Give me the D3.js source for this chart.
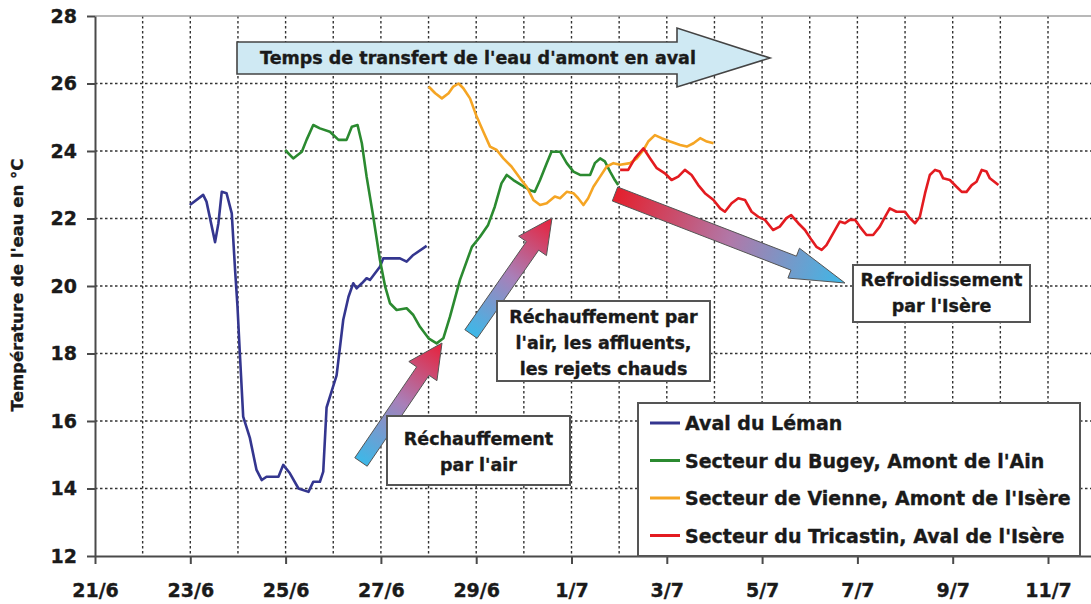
<!DOCTYPE html>
<html>
<head>
<meta charset="utf-8">
<script src="https://cdn.jsdelivr.net/npm/d3@7"></script>
<style>
  body { margin: 0; background: #fff; }
  text { font-family: "DejaVu Sans", sans-serif; font-weight: bold; fill: #1a1a1a; stroke: #1a1a1a; stroke-width: 0.35px; }
</style>
</head>
<body>
<script>
// axes
var xLabels = ["21/6", "23/6", "25/6", "27/6", "29/6", "1/7", "3/7", "5/7", "7/7", "9/7", "11/7"]
var yTicks = [12, 14, 16, 18, 20, 22, 24, 26, 28]

// series : [jours depuis le 21/6, temperature]
var seriesNames = ["Aval du Léman", "Secteur du Bugey, Amont de l'Ain",
  "Secteur de Vienne, Amont de l'Isère", "Secteur du Tricastin, Aval de l'Isère"]
var seriesColors = ["#34368f", "#2b8a30", "#f5a524", "#e31b20"]

var leman = [[1.99,22.4],[2.27,22.7],[2.34,22.5],[2.52,21.3],[2.59,21.86],[2.66,22.79],[2.76,22.75],
  [2.87,22.15],[2.94,20.47],[2.99,19.4],[3.04,18.0],[3.11,16.13],[3.25,15.5],[3.39,14.55],[3.5,14.25],
  [3.6,14.35],[3.85,14.35],[3.95,14.7],[4.09,14.45],[4.27,14.0],[4.48,13.9],[4.58,14.2],[4.72,14.2],
  [4.79,14.5],[4.86,16.4],[4.97,16.9],[5.07,17.35],[5.21,19.0],[5.32,19.68],[5.42,20.08],[5.49,19.93],
  [5.6,20.08],[5.7,20.23],[5.77,20.18],[5.98,20.57],[6.05,20.82],[6.4,20.82],[6.54,20.72],[6.68,20.92],[6.96,21.19]]

var bugey = [[3.99,24.03],[4.16,23.78],[4.34,23.98],[4.44,24.33],[4.58,24.77],[4.72,24.67],[4.93,24.57],
  [5.11,24.33],[5.28,24.33],[5.39,24.72],[5.51,24.77],[5.6,24.23],[5.7,23.24],[5.84,22.05],[5.98,20.77],
  [6.09,19.98],[6.19,19.49],[6.33,19.29],[6.54,19.34],[6.68,19.14],[6.82,18.79],[7.0,18.45],[7.17,18.3],
  [7.31,18.45],[7.45,19.09],[7.66,20.18],[7.91,21.16],[8.08,21.46],[8.25,21.81],[8.39,22.35],[8.53,23.04],
  [8.64,23.29],[8.78,23.14],[8.95,22.99],[9.13,22.84],[9.23,22.79],[9.34,23.14],[9.48,23.64],[9.58,23.98],
  [9.76,23.98],[9.9,23.64],[10.04,23.39],[10.18,23.29],[10.39,23.29],[10.49,23.64],[10.6,23.78],
  [10.7,23.69],[10.81,23.39],[10.91,23.14],[10.98,22.99]]

var vienne = [[7.0,25.91],[7.14,25.71],[7.28,25.56],[7.42,25.71],[7.52,25.91],[7.63,26.0],[7.73,25.86],
  [7.87,25.56],[8.01,25.02],[8.15,24.57],[8.29,24.13],[8.43,24.03],[8.57,23.78],[8.74,23.54],[8.92,23.19],
  [9.06,22.94],[9.2,22.55],[9.34,22.4],[9.48,22.45],[9.65,22.65],[9.76,22.6],[9.9,22.79],[10.04,22.75],
  [10.14,22.6],[10.25,22.4],[10.35,22.6],[10.46,22.94],[10.6,23.24],[10.74,23.54],[10.88,23.64],
  [11.02,23.59],[11.23,23.64],[11.37,23.78],[11.51,24.03],[11.61,24.28],[11.75,24.47],[11.89,24.38],
  [12.07,24.28],[12.28,24.18],[12.42,24.13],[12.56,24.23],[12.7,24.38],[12.84,24.28],[12.98,24.23]]

var tricastin = [[11.02,23.44],[11.19,23.44],[11.33,23.78],[11.51,24.08],[11.65,23.78],[11.79,23.49],
  [11.96,23.34],[12.1,23.14],[12.24,23.24],[12.38,23.44],[12.52,23.29],[12.66,22.99],[12.8,22.75],
  [12.98,22.55],[13.12,22.3],[13.22,22.2],[13.36,22.45],[13.5,22.6],[13.64,22.55],[13.78,22.2],
  [13.92,22.05],[14.06,21.96],[14.23,21.66],[14.37,21.76],[14.51,22.01],[14.61,22.1],[14.76,21.86],
  [14.9,21.66],[15.04,21.36],[15.14,21.16],[15.25,21.07],[15.35,21.21],[15.49,21.56],[15.63,21.91],
  [15.74,21.86],[15.84,21.96],[15.95,21.96],[16.05,21.76],[16.19,21.51],[16.33,21.51],[16.47,21.76],
  [16.58,22.05],[16.68,22.3],[16.82,22.2],[17.0,22.2],[17.1,22.01],[17.21,21.86],[17.31,22.05],
  [17.42,22.75],[17.52,23.29],[17.63,23.44],[17.73,23.39],[17.8,23.19],[17.94,23.14],[18.08,22.94],
  [18.19,22.79],[18.29,22.79],[18.4,22.99],[18.5,23.09],[18.61,23.44],[18.71,23.39],[18.78,23.19],[18.96,22.99]]

var allSeries = [leman, bugey, vienne, tricastin]

var width = 1091, height = 604

var svg = d3.select("body").append("svg")
  .attr("width", width)
  .attr("height", height)

var x = d3.scaleLinear().domain([0, 21]).range([95, 95 + 21 * 47.65])
var y = d3.scaleLinear().domain([12, 28]).range([556, 16])

// quadrillage pointille
var grille = svg.append("g")
grille.selectAll(".gv")
  .data(d3.range(1, 22))
  .enter().append("line")
  .attr("x1", d => x(d)).attr("x2", d => x(d))
  .attr("y1", y(28)).attr("y2", y(12))
  .attr("stroke", "#333").attr("stroke-width", 1.4).attr("stroke-dasharray", "2.5,2.5")
grille.selectAll(".gh")
  .data(yTicks.filter(d => d > 12 && d < 28))
  .enter().append("line")
  .attr("x1", x(0)).attr("x2", width)
  .attr("y1", d => y(d)).attr("y2", d => y(d))
  .attr("stroke", "#333").attr("stroke-width", 1.4).attr("stroke-dasharray", "2.5,2.5")
// bord du haut
svg.append("line")
  .attr("x1", x(0)).attr("x2", width).attr("y1", y(28)).attr("y2", y(28))
  .attr("stroke", "#a0a0a0").attr("stroke-width", 1.5)

// axes
var ejeY = d3.axisLeft(y).tickValues(yTicks).tickSize(8).tickSizeOuter(0).tickPadding(10)
var gY = svg.append("g").attr("transform", "translate(" + x(0) + ",0)").call(ejeY)
var ejeX = d3.axisBottom(x).tickValues(d3.range(0, 21, 2))
  .tickFormat(d => xLabels[d / 2]).tickSize(8).tickSizeOuter(0).tickPadding(20)
var gX = svg.append("g").attr("transform", "translate(0," + y(12) + ")").call(ejeX)

;[gX, gY].forEach(function (g) {
  g.select(".domain").attr("stroke", "#4a4a4a").attr("stroke-width", 2)
  g.selectAll(".tick line").attr("stroke", "#4a4a4a").attr("stroke-width", 2)
  g.selectAll(".tick text").attr("fill", "#1a1a1a")
    .style("font-family", '"DejaVu Sans", sans-serif').style("font-weight", "bold").style("font-size", "19px")
})

svg.append("text")
  .attr("transform", "translate(17,285) rotate(-90)")
  .attr("text-anchor", "middle").attr("dominant-baseline", "central")
  .style("font-size", "16.5px")
  .text("Température de l'eau en °C")

// courbes
var linea = d3.line().x(d => x(d[0])).y(d => y(d[1]))
svg.selectAll(".serie")
  .data(allSeries)
  .enter().append("path")
  .attr("d", linea)
  .attr("fill", "none")
  .attr("stroke", (d, i) => seriesColors[i])
  .attr("stroke-width", 2.6)
  .attr("stroke-linejoin", "round")

// fleches
function flecha(x1, y1, x2, y2, sw, hw, hl) {
  var dx = x2 - x1, dy = y2 - y1, L = Math.hypot(dx, dy)
  var ux = dx / L, uy = dy / L, px = -uy, py = ux
  var bx = x2 - ux * hl, by = y2 - uy * hl
  var p = [[x1 + px * sw / 2, y1 + py * sw / 2], [bx + px * sw / 2, by + py * sw / 2],
    [bx + px * hw / 2, by + py * hw / 2], [x2, y2], [bx - px * hw / 2, by - py * hw / 2],
    [bx - px * sw / 2, by - py * sw / 2], [x1 - px * sw / 2, y1 - py * sw / 2]]
  return "M" + p.map(q => q.join(",")).join("L") + "Z"
}

var defs = svg.append("defs")
function degradado(id, x1, y1, x2, y2, colores) {
  var g = defs.append("linearGradient").attr("id", id).attr("gradientUnits", "userSpaceOnUse")
    .attr("x1", x1).attr("y1", y1).attr("x2", x2).attr("y2", y2)
  colores.forEach((c, i) => g.append("stop").attr("offset", i / (colores.length - 1)).attr("stop-color", c))
}

var arrows = [
  {id: "ga", x1: 361, y1: 462, x2: 442, y2: 343, cols: ["#3db8e8", "#a97fb8", "#e8203a"]},
  {id: "gb", x1: 471, y1: 334, x2: 552, y2: 218, cols: ["#3db8e8", "#a97fb8", "#e8203a"]},
  {id: "gc", x1: 615, y1: 194, x2: 845, y2: 283, cols: ["#e41f2c", "#b178a8", "#3db8e8"]}
]
arrows.forEach(function (a) {
  degradado(a.id, a.x1, a.y1, a.x2, a.y2, a.cols)
  svg.append("path")
    .attr("d", flecha(a.x1, a.y1, a.x2, a.y2, 15, a.id == "gc" ? 32 : 34, a.id == "gc" ? 55 : 34))
    .attr("fill", "url(#" + a.id + ")")
    .attr("stroke", "#555").attr("stroke-width", 1)
})

// fleche du haut
var top_arrow = [[237, 42], [677, 42], [677, 28], [770, 58], [677, 87], [677, 74], [237, 74]]
svg.append("path")
  .attr("d", "M" + top_arrow.map(q => q.join(",")).join("L") + "Z")
  .attr("fill", "#cfe9f3").attr("stroke", "#444").attr("stroke-width", 1.6)
svg.append("text")
  .attr("x", 478).attr("y", 58).attr("text-anchor", "middle").attr("dominant-baseline", "central")
  .style("font-size", "17.5px")
  .text("Temps de transfert de l'eau d'amont en aval")

// cadres de texte
var boxes = [
  {x: 387, y: 416, w: 183, h: 69, lines: ["Réchauffement", "par l'air"], ty: 439},
  {x: 497, y: 301, w: 213, h: 80, lines: ["Réchauffement par", "l'air, les affluents,", "les rejets chauds"], ty: 317},
  {x: 853, y: 265, w: 177, h: 57, lines: ["Refroidissement", "par l'Isère"], ty: 280}
]
boxes.forEach(function (b) {
  svg.append("rect").attr("x", b.x).attr("y", b.y).attr("width", b.w).attr("height", b.h)
    .attr("fill", "#fff").attr("stroke", "#555").attr("stroke-width", 2)
  b.lines.forEach(function (t, i) {
    svg.append("text").attr("x", b.x + b.w / 2).attr("y", b.ty + i * 26)
      .attr("text-anchor", "middle").attr("dominant-baseline", "central")
      .style("font-size", "17.5px").text(t)
  })
})

// legende
var leyenda = svg.append("g")
leyenda.append("rect").attr("x", 638).attr("y", 403).attr("width", 442).attr("height", 153)
  .attr("fill", "#fff").attr("stroke", "#555").attr("stroke-width", 2)
var filas = leyenda.selectAll(".fila").data(seriesNames).enter().append("g")
  .attr("transform", (d, i) => "translate(650," + (423 + i * 37.5) + ")")
filas.append("line").attr("x1", 0).attr("x2", 30).attr("y1", 0).attr("y2", 0)
  .attr("stroke", (d, i) => seriesColors[i]).attr("stroke-width", 3)
filas.append("text").attr("x", 35).attr("y", 0).attr("dominant-baseline", "central")
  .style("font-size", "19px").text(d => d)
</script>
</body>
</html>
